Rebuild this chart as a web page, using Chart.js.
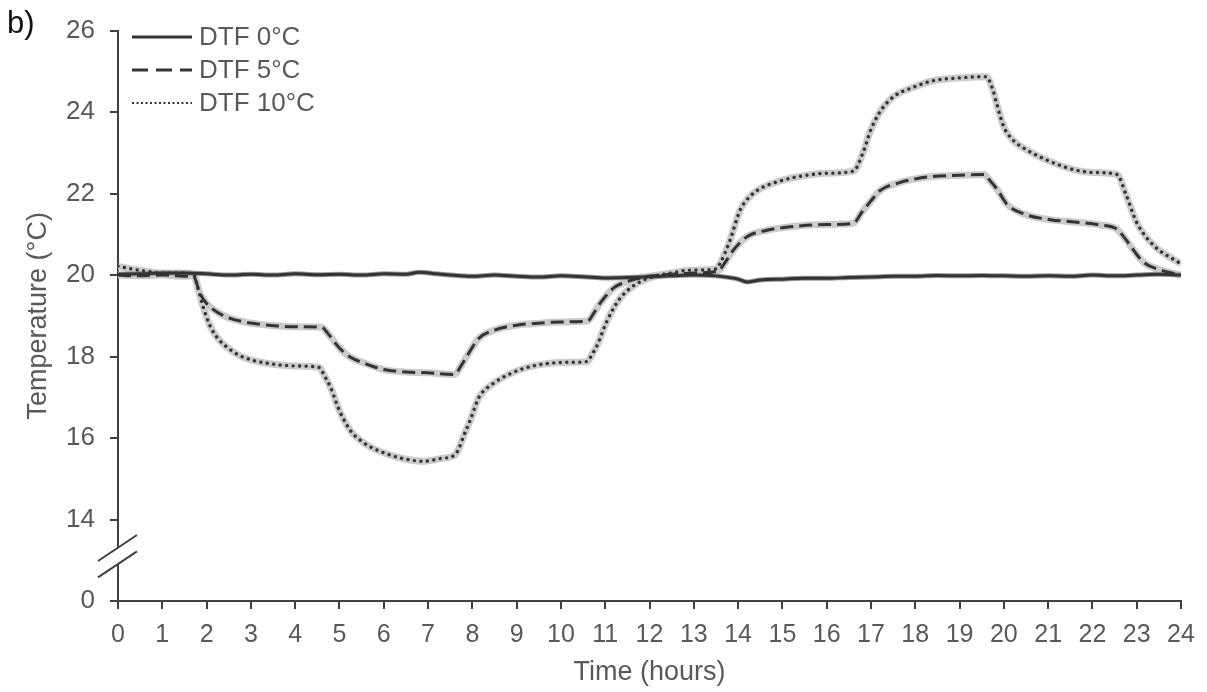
<!DOCTYPE html>
<html>
<head>
<meta charset="utf-8">
<title>DTF temperature profiles</title>
<script src="https://cdn.jsdelivr.net/npm/chart.js@4.4.1/dist/chart.umd.min.js"></script>
<style>
  html, body { margin: 0; padding: 0; background: #fff; }
  #wrap { width: 1207px; height: 692px; }
</style>
</head>
<body>
<div id="wrap"><canvas id="chart" width="1207" height="692"></canvas></div>
<script>
// ---- data ----
const seriesLabels = ['DTF 0°C', 'DTF 5°C', 'DTF 10°C'];

const dtf0Hours = [0, 0.5, 1, 1.5, 2, 2.5, 3, 3.5, 4, 4.5, 5, 5.5, 6, 6.5, 6.8, 7.2, 7.5, 8, 8.5, 9, 9.5, 10, 10.5, 11, 11.5, 12, 12.5, 13, 13.5, 14, 14.2, 14.5, 15, 15.5, 16, 16.5, 17, 17.5, 18, 18.5, 19, 19.5, 20, 20.5, 21, 21.5, 22, 22.5, 23, 23.5, 24];
const dtf0Temp = [20.02, 20.03, 20.05, 20.05, 20.03, 20.0, 20.02, 20.0, 20.03, 20.01, 20.02, 20.0, 20.03, 20.02, 20.07, 20.03, 20.0, 19.97, 20.0, 19.97, 19.95, 19.98, 19.96, 19.93, 19.94, 19.96, 19.98, 20.0, 19.98, 19.9, 19.83, 19.88, 19.9, 19.92, 19.92, 19.94, 19.95, 19.97, 19.97, 19.99, 19.98, 19.99, 19.98, 19.97, 19.98, 19.97, 20.0, 19.98, 20.0, 20.02, 20.0];

const dtf5Hours = [0, 0.5, 1, 1.5, 1.7, 1.85, 2.0, 2.2, 2.45, 2.8, 3.2, 3.6, 4.0, 4.6, 4.75, 5.0, 5.25, 5.53, 6.0, 6.5, 7.0, 7.6, 7.75, 7.9, 8.15, 8.5, 9.0, 9.5, 10.0, 10.6, 10.75, 10.9, 11.2, 11.55, 12.0, 12.5, 13.0, 13.55, 13.7, 13.9, 14.2, 14.65, 15.0, 15.55, 16.0, 16.6, 16.8, 17.0, 17.2, 17.65, 18.0, 18.4, 19.0, 19.55, 19.7, 19.85, 20.07, 20.45, 21.05, 21.6, 22.17, 22.55, 22.7, 22.85, 23.15, 23.55, 24];
const dtf5Temp = [20.0, 19.98, 20.0, 19.97, 19.98, 19.55, 19.3, 19.12, 18.97, 18.86, 18.79, 18.75, 18.73, 18.72, 18.55, 18.21, 17.98, 17.85, 17.68, 17.62, 17.6, 17.56, 17.78, 18.05, 18.45, 18.65, 18.77, 18.82, 18.85, 18.87, 19.08, 19.33, 19.69, 19.86, 19.97, 20.02, 20.05, 20.1, 20.3, 20.62, 20.94, 21.1, 21.16, 21.22, 21.24, 21.27, 21.55, 21.82, 22.07, 22.27, 22.36, 22.42, 22.45, 22.47, 22.3, 22.1, 21.74, 21.5, 21.36, 21.3, 21.23, 21.13, 20.95, 20.73, 20.32, 20.12, 20.0];

const dtf10Hours = [0, 0.3, 0.6, 1.0, 1.4, 1.7, 1.8, 1.9, 2.08, 2.25, 2.45, 2.7, 3.0, 3.6, 4.0, 4.55, 4.65, 4.8, 5.0, 5.25, 5.5, 5.7, 6.15, 6.5, 6.9, 7.3, 7.6, 7.7, 7.8, 7.95, 8.15, 8.45, 8.9, 9.3, 9.7, 10.2, 10.6, 10.7, 10.82, 11.03, 11.33, 11.7, 12.15, 12.5, 12.9, 13.5, 13.6, 13.82, 14.04, 14.2, 14.42, 14.95, 15.55, 16.0, 16.6, 16.83, 16.98, 17.2, 17.5, 17.96, 18.4, 19.0, 19.6, 19.75, 19.84, 20.0, 20.2, 20.52, 21.04, 21.57, 22.0, 22.55, 22.77, 23.0, 23.38, 23.87, 24];
const dtf10Temp = [20.22, 20.15, 20.1, 20.05, 20.05, 20.02, 19.7, 19.3, 18.75, 18.45, 18.24, 18.05, 17.92, 17.8, 17.77, 17.73, 17.55, 17.24, 16.67, 16.18, 15.92, 15.78, 15.58, 15.48, 15.43, 15.5, 15.58, 15.75, 16.04, 16.43, 17.0, 17.32, 17.6, 17.75, 17.83, 17.86, 17.88, 18.05, 18.28, 18.85, 19.42, 19.78, 19.98, 20.05, 20.12, 20.15, 20.3, 20.86, 21.58, 21.85, 22.07, 22.31, 22.45, 22.5, 22.55, 23.03, 23.52, 24.0, 24.37, 24.61, 24.77, 24.84, 24.87, 24.55, 24.2, 23.64, 23.32, 23.07, 22.79, 22.59, 22.52, 22.47, 21.94, 21.29, 20.73, 20.36, 20.28];

const xTicks = [0, 1, 2, 3, 4, 5, 6, 7, 8, 9, 10, 11, 12, 13, 14, 15, 16, 17, 18, 19, 20, 21, 22, 23, 24];
// the axis is broken below 14: the lowest tick stands for 0
const yTickValues = [12, 14, 16, 18, 20, 22, 24, 26];
const yTickLabels = ['0', '14', '16', '18', '20', '22', '24', '26'];

// ---- styling ----
const FONT = "'Liberation Sans', Arial, sans-serif";
const TEXT = '#595959';
const AXIS = '#404040';
const LINE = '#333333';
const BAND = '#cbcbcb';

const toPoints = (hours, temps) => hours.map((h, i) => ({ x: h, y: temps[i] }));

const lineStyles = [
  { dash: [], width: 3, cap: 'butt' },
  { dash: [13, 6], width: 3, cap: 'butt' },
  { dash: [0.01, 6.5], width: 3.4, cap: 'round' }
];
const legendDash = [[], [16, 8], [2, 2.5]];

const pts = [
  toPoints(dtf0Hours, dtf0Temp),
  toPoints(dtf5Hours, dtf5Temp),
  toPoints(dtf10Hours, dtf10Temp)
];

const datasets = [];
pts.forEach((data, i) => {
  datasets.push({
    label: seriesLabels[i],
    data,
    borderColor: LINE,
    borderWidth: lineStyles[i].width,
    borderDash: lineStyles[i].dash,
    borderCapStyle: lineStyles[i].cap,
    pointRadius: 0,
    cubicInterpolationMode: 'monotone',
    order: 1
  });
});
pts.forEach((data, i) => {
  datasets.push({
    label: seriesLabels[i] + ' band',
    data,
    borderColor: i === 0 ? '#9a9a9a' : BAND,
    borderWidth: i === 0 ? 5 : 7,
    pointRadius: 0,
    cubicInterpolationMode: 'monotone',
    order: 2
  });
});

// broken axis marks, legend and panel letter
const extras = {
  id: 'extras',
  afterDraw(chart) {
    const ctx = chart.ctx;
    const y = chart.scales.y;
    const x0 = chart.chartArea.left;
    const yA = y.getPixelForValue(13.3);
    const yB = y.getPixelForValue(12.9);
    ctx.save();
    ctx.fillStyle = '#fff';
    ctx.fillRect(x0 - 3, yA, 6, yB - yA);
    ctx.strokeStyle = AXIS;
    ctx.lineWidth = 2;
    [yA, yB].forEach(py => {
      ctx.beginPath();
      ctx.moveTo(x0 - 20, py + 13);
      ctx.lineTo(x0 + 19, py - 13);
      ctx.stroke();
    });

    // legend
    const rows = [37, 70, 103];
    ctx.font = '26px ' + FONT;
    ctx.textBaseline = 'middle';
    ctx.textAlign = 'left';
    seriesLabels.forEach((lab, i) => {
      ctx.strokeStyle = LINE;
      ctx.lineWidth = i === 2 ? 2 : 3;
      ctx.setLineDash(legendDash[i]);
      ctx.beginPath();
      ctx.moveTo(132, rows[i]);
      ctx.lineTo(192, rows[i]);
      ctx.stroke();
      ctx.setLineDash([]);
      ctx.fillStyle = TEXT;
      ctx.fillText(lab, 199, rows[i] + 1);
    });

    ctx.fillStyle = '#111';
    ctx.font = '31px ' + FONT;
    ctx.fillText('b)', 7, 24);
    ctx.restore();
  }
};

new Chart(document.getElementById('chart'), {
  type: 'line',
  data: { datasets },
  options: {
    responsive: false,
    animation: false,
    devicePixelRatio: 1,
    layout: { padding: { left: 0, top: 23, right: 26, bottom: 0 } },
    plugins: { legend: { display: false }, tooltip: { enabled: false } },
    scales: {
      x: {
        type: 'linear',
        min: 0,
        max: 24,
        afterBuildTicks: s => { s.ticks = xTicks.map(v => ({ value: v })); },
        afterFit: s => { s.height = 91; },
        border: { color: AXIS, width: 2 },
        grid: { drawOnChartArea: false, color: AXIS, lineWidth: 2, tickLength: 8 },
        ticks: { color: TEXT, font: { family: FONT, size: 25 }, padding: 11, maxRotation: 0, autoSkip: false },
        title: { display: true, text: 'Time (hours)', color: TEXT, font: { family: FONT, size: 27 }, padding: { top: 0, bottom: 3 } }
      },
      y: {
        min: 12,
        max: 26,
        afterBuildTicks: s => { s.ticks = yTickValues.map(v => ({ value: v })); },
        afterFit: s => { s.width = 118; },
        border: { color: AXIS, width: 2 },
        grid: { drawOnChartArea: false, color: AXIS, lineWidth: 2, tickLength: 8 },
        ticks: {
          color: TEXT,
          font: { family: FONT, size: 26 },
          padding: 15,
          callback: (v) => yTickLabels[yTickValues.indexOf(v)]
        },
        title: { display: true, text: 'Temperature (°C)', color: TEXT, font: { family: FONT, size: 27 }, padding: { top: 22, bottom: 0 } }
      }
    }
  },
  plugins: [extras]
});
</script>
</body>
</html>
